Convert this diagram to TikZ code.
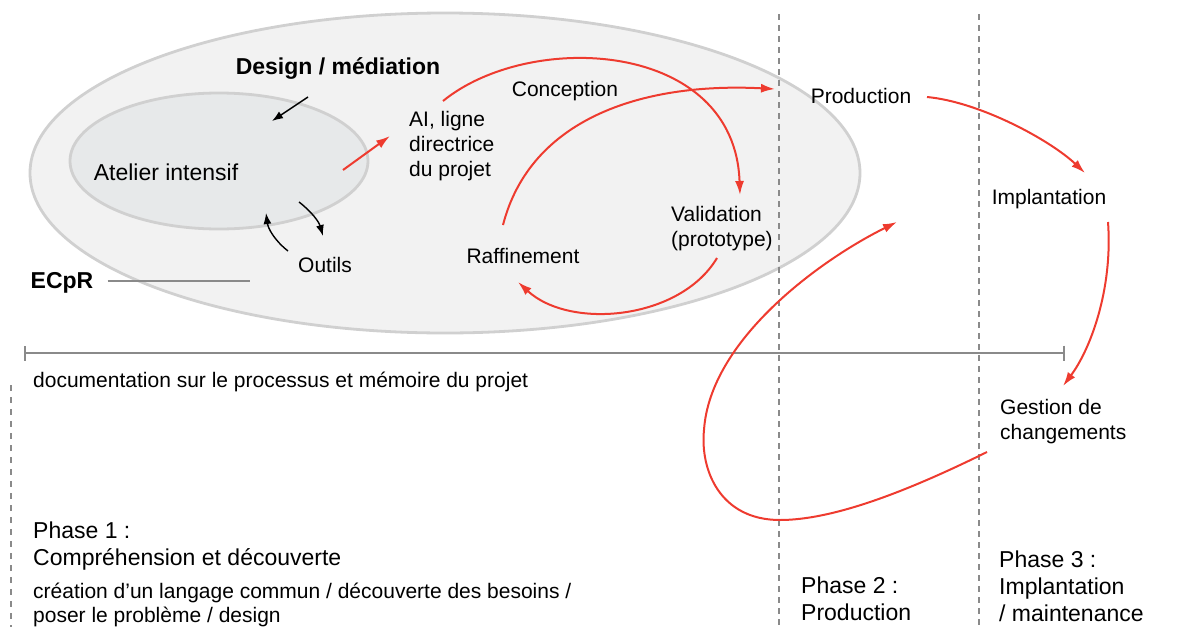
\documentclass[tikz,border=0pt]{standalone}
\usepackage{fontspec}
\setmainfont{Liberation Sans}
\usepackage{xcolor}
\definecolor{flow}{HTML}{EE3B2F}
\definecolor{shell}{HTML}{F2F2F2}
\definecolor{core}{HTML}{E7E9EA}
\definecolor{rim}{HTML}{D0D0D0}
\definecolor{guide}{HTML}{8A8A8A}
\usetikzlibrary{arrows.meta}

\begin{document}
\begin{tikzpicture}[
  x=1pt, y=-1pt,
  lbl/.style={inner sep=0pt, font=\fontsize{21}{25}\selectfont, align=left},
  big/.style={inner sep=0pt, font=\fontsize{23}{27}\selectfont, align=left},
  loop/.style={-{Latex[length=14pt,width=9pt]}, flow, line width=2pt},
  tool/.style={-{Latex[length=11pt,width=8pt]}, black, line width=1.4pt},
  phaseline/.style={guide, line width=1.8pt, dash pattern=on 6pt off 5pt}
]
  \useasboundingbox (0,0) rectangle (1179,627);

  % zones
  \draw[rim, line width=2.8pt, fill=shell] (445,173) ellipse [x radius=415, y radius=160];
  \draw[rim, line width=2.8pt, fill=core] (219,161) ellipse [x radius=149, y radius=68];

  \draw[phaseline] (779,14) -- (779,627);
  \draw[phaseline] (979,14) -- (979,627);
  \draw[guide, line width=1.2pt, dash pattern=on 6pt off 6pt] (11,385) -- (11,627);

  \draw[guide, line width=1.6pt, {Bar[width=15pt]}-{Bar[width=15pt]}] (24,353) -- (1065,353);

  % labels
  \node[big, font=\fontsize{23}{27}\selectfont\bfseries] (design) at (338,69) {Design / médiation};
  \node[big] (atelier) at (166,172) {Atelier intensif};
  \node[lbl] (outils) at (325,265) {Outils};
  \node[big, font=\fontsize{23}{27}\selectfont\bfseries] (ecpr) at (62,283) {ECpR};
  \node[lbl, anchor=west] (ai) at (409,146) {AI, ligne\\directrice\\du projet};
  \node[lbl] (conc) at (565,91) {Conception};
  \node[lbl, anchor=west] (valid) at (671,229) {Validation\\(prototype)};
  \node[lbl] (raff) at (523,256) {Raffinement};
  \node[lbl] (prod) at (861,96) {Production};
  \node[lbl] (impl) at (1049,199) {Implantation};
  \node[lbl, anchor=west] (gest) at (1000,422) {Gestion de\\changements};

  \node[lbl, anchor=west] (doc) at (33,382) {documentation sur le processus et mémoire du projet};
  \node[big, anchor=west] (ph1) at (33,546) {Phase 1 :\\Compréhension et découverte};
  \node[lbl, anchor=west, font=\fontsize{21}{24}\selectfont] (ph1b) at (33,605) {création d’un langage commun / découverte des besoins /\\poser le problème / design};
  \node[big, anchor=west] (ph2) at (801,599) {Phase 2 :\\Production};
  \node[big, anchor=west] (ph3) at (999,586) {Phase 3 :\\Implantation\\/ maintenance};

  % end points
  \coordinate (ecprEnd) at (250,281);
  \coordinate (loopEnd) at (897,222);

  \draw[guide, line width=1.3pt] (ecpr.east) ++(14,-2) -- (ecprEnd);

  % black arrows
  \draw[tool] (308,97) -- (272,121);
  \draw[tool] (288,251) .. controls (274,240) and (268,228) .. (266,213);
  \draw[tool] (299,202) .. controls (312,212) and (319,222) .. (323,236);

  % red arrows
  \draw[loop] (343,170) -- (390,136);
  \draw[loop] (443,101) .. controls (530,30) and (735,40) .. (740,195);
  \draw[loop] (503,225) .. controls (530,120) and (640,82) .. (775,89);
  \draw[loop] (717,258) .. controls (680,320) and (570,330) .. (518,282);
  \draw[loop] (927,97) .. controls (980,102) and (1050,140) .. (1085,173);
  \draw[loop] (1108,222) .. controls (1113,290) and (1090,350) .. (1063,386);
  \draw[loop] (987,452) .. controls (900,495) and (830,520) .. (780,520)
    .. controls (720,520) and (700,470) .. (704,430)
    .. controls (710,340) and (820,260) .. (loopEnd);
\end{tikzpicture}
\end{document}
